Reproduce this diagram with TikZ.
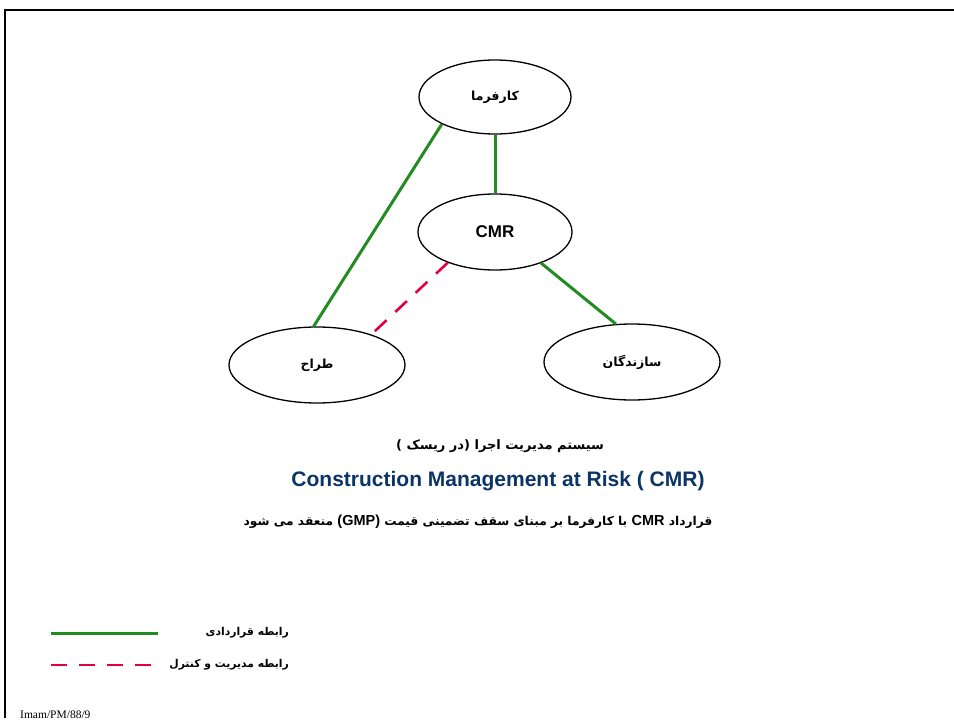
\documentclass[tikz,border=0pt]{standalone}
\usepackage{fontspec}
\usepackage{xcolor}
\setmainfont{Liberation Sans}
\newfontfamily\arabicfont[Script=Arabic]{DejaVu Sans}
\newfontfamily\refont{Liberation Serif}
\TeXXeTstate=1
\usetikzlibrary{shapes.geometric,positioning}
\definecolor{contractgreen}{RGB}{34,139,34}
\definecolor{controlred}{RGB}{228,0,58}
\definecolor{titleblue}{RGB}{12,52,102}
\tikzset{
  party/.style={ellipse,draw,line width=1.3pt,minimum width=152pt,minimum height=74pt,inner sep=0pt,font=\arabicfont\bfseries\fontsize{12.5}{15}\selectfont},
  contract/.style={draw=contractgreen,line width=3pt},
  control/.style={draw=controlred,line width=2.6pt,dash pattern=on 16pt off 12pt},
  caption/.style={font=\arabicfont\bfseries\fontsize{13}{15}\selectfont,inner sep=0pt},
  keytext/.style={font=\arabicfont\bfseries\fontsize{10.8}{13}\selectfont,inner sep=0pt,anchor=east}
}
\begin{document}
\begin{tikzpicture}[x=1pt,y=-1pt]
        \useasboundingbox (0,0) rectangle (954,722);
        \draw[line width=2pt] (4,10) -- (954,10);
        \draw[line width=1.6pt] (5,10) -- (5,718);
        \node[party] (employer) at (495,97) {\beginR کارفرما\endR};
        \node[party,minimum width=154pt,minimum height=76pt,font=\bfseries\fontsize{17}{20}\selectfont] (cmr) at (495,232) {CMR};
        \node[party,minimum width=176pt,minimum height=76pt] (designer) at (317,365) {\beginR طراح\endR};
        \node[party,minimum width=176pt,minimum height=76pt] (builders) at (632,362) {\beginR سازندگان\endR};
        \draw[contract] (employer.207) -- (designer.95);
        \draw[contract] (employer.south) -- (cmr.north);
        \draw[contract] (cmr.326) -- (builders.113);
        \draw[control] (cmr.213) -- ([shift={(-3pt,-4pt)}]designer.30);
        \node[caption] (system) at (500,446) {\beginR سیستم مدیریت اجرا (در ریسک )\endR};
        \node[font=\bfseries\fontsize{21}{24}\selectfont,text=titleblue,inner sep=0pt] (title) at (498,481) {Construction Management at Risk ( CMR)};
        \node[caption,font=\arabicfont\bfseries\fontsize{12.2}{15}\selectfont] (gmp) at (478,522) {\beginR قرارداد {\rmfamily\bfseries\fontsize{14.5}{17}\selectfont CMR} با کارفرما بر مبنای سقف تضمینی قیمت {\rmfamily\bfseries\fontsize{14.5}{17}\selectfont (GMP)} منعقد می شود\endR};
        \coordinate (g1) at (51,633);
        \coordinate (g2) at (158,633);
        \coordinate (r1) at (51,665);
        \coordinate (r2) at (151,665);
        \draw[contract] (g1) -- (g2);
        \draw[control] (r1) -- (r2);
        \node[keytext] (greenkey) at (289,633) {\beginR رابطه قراردادی\endR};
        \node[keytext] (redkey) at (289,665) {\beginR رابطه مدیریت و کنترل\endR};
        \node[font=\refont\fontsize{11.5}{13}\selectfont,anchor=west,inner sep=0pt] (code) at (20,715) {Imam/PM/88/9};
    \end{tikzpicture}
\end{document}
